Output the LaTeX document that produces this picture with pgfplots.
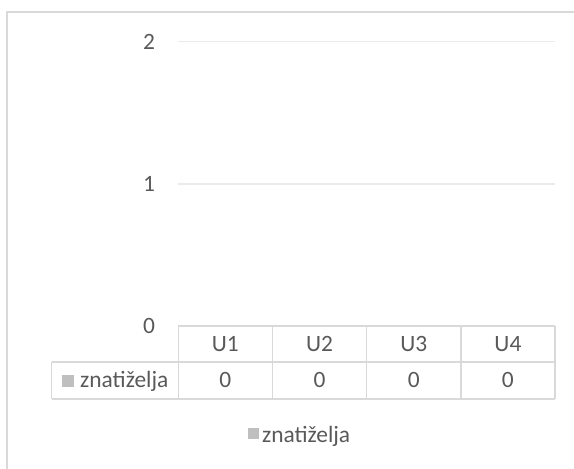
\documentclass[border=0pt]{standalone}
\usepackage{fontspec}
\setmainfont{Carlito}
\usepackage{pgfplots}
\pgfplotsset{compat=1.18}
\definecolor{txt}{HTML}{595959}
\definecolor{gridc}{HTML}{EBEBEB}
\definecolor{tab}{HTML}{D9D9D9}
\definecolor{ser}{HTML}{BFBFBF}
\newcommand\cf{\fontsize{23.5}{28}\selectfont}
\begin{document}
\begin{tikzpicture}[x=1bp,y=1bp]
\path[use as bounding box] (0,0) rectangle (574,469);
\draw[tab, line width=2bp] (6.7,0) -- (6.7,457.3) -- (574,457.3);
\begin{axis}[
 at={(178.3bp,143bp)}, anchor=south west, scale only axis,
 width=376.7bp, height=284.3bp,
 xmin=-0.5, xmax=3.5, ymin=0, ymax=2,
 xtick={0,1,2,3}, xticklabels={U1,U2,U3,U4},
 ytick={0,1,2},
 axis line style={draw=none}, major tick length=0pt,
 ymajorgrids, grid style={gridc, line width=1.5bp},
 /pgf/number format/assume math mode=true,
 tick label style={font=\cf, text=txt},
 xticklabel style={anchor=base, inner sep=0pt, yshift=-25.7bp},
 yticklabel style={inner sep=0pt, anchor=east, xshift=-23bp},
 ybar, bar width=30bp,
 clip=false,
 nodes near coords,
 nodes near coords style={anchor=base, inner sep=0pt, yshift=-62bp, font=\cf, text=txt},
 legend style={at={(0.322,-0.383)}, anchor=center, draw=none, fill=none, font=\cf, text=txt, nodes={inner sep=1bp}},
 legend image code/.code={\fill[ser] (0bp,-4.5bp) rectangle (11bp,6.5bp); \path (13bp,0bp);},
]
\addplot[fill=ser, draw=none] coordinates {(0,0) (1,0) (2,0) (3,0)};
\addlegendentry{znatiželja}
\end{axis}
\begin{scope}[tab, line width=1.5bp]
\draw (178.3,143) -- (555,143);
\draw (51.7,107) -- (555,107);
\draw (51.7,70) -- (555,70);
\draw (51.7,107) -- (51.7,70);
\foreach \x in {178.3,272.5,366.7,460.8,555} {\draw (\x,143) -- (\x,70);}
\end{scope}
\fill[ser] (61.5,81.5) rectangle (73.5,93.5);
\node[anchor=base west, inner sep=0pt, font=\cf, text=txt] at (80,81) {znatiželja};
\end{tikzpicture}
\end{document}
